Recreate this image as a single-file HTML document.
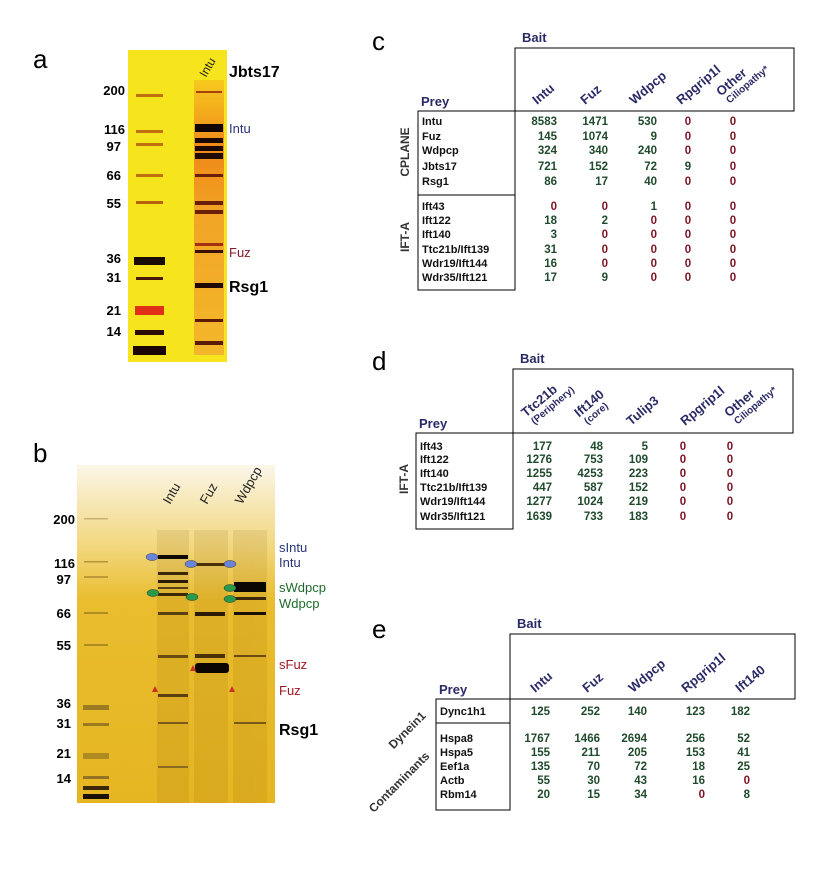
<!DOCTYPE html>
<html><head><meta charset="utf-8">
<style>
html,body{margin:0;padding:0;background:#fff;}
svg{display:block;font-family:"Liberation Sans",sans-serif;}
.pl{font-size:26px;fill:#000;}
.mk{font-size:13px;font-weight:bold;fill:#000;text-anchor:end;}
.hd{font-size:13px;font-weight:bold;fill:#2a2a66;}
.rl{font-size:11px;font-weight:bold;fill:#111;}
.v{font-size:11.5px;font-weight:bold;}
</style></head>
<body>
<svg id="fig" width="816" height="879" viewBox="0 0 816 879">
<defs>
<linearGradient id="gb" x1="0" y1="0" x2="0" y2="1">
<stop offset="0" stop-color="#fbf6e8"/><stop offset="0.25" stop-color="#f1d67a"/><stop offset="0.4" stop-color="#e9bd2e"/><stop offset="1" stop-color="#e6b522"/>
</linearGradient>
<linearGradient id="ga" x1="0" y1="0" x2="0" y2="1">
<stop offset="0" stop-color="#f6c020"/><stop offset="0.25" stop-color="#ee6a18"/><stop offset="0.5" stop-color="#f09028"/><stop offset="1" stop-color="#f2a830"/>
</linearGradient>
</defs>
<g>
<text class="pl" x="33" y="68">a</text>
<rect x="128" y="50" width="99" height="312" fill="#f6e41c"/>
<g fill="#a8400c">
<rect x="136" y="94" width="27" height="3" opacity="0.7"/>
<rect x="136" y="130" width="27" height="3" opacity="0.7"/>
<rect x="136" y="143" width="27" height="3" opacity="0.7"/>
<rect x="136" y="174" width="27" height="3" opacity="0.7"/>
<rect x="136" y="201" width="27" height="3" opacity="0.8"/>
<rect x="134" y="257" width="31" height="8" fill="#1a0a04"/>
<rect x="136" y="277" width="27" height="3" fill="#4a1a08"/>
<rect x="135" y="306" width="29" height="9" fill="#e03018"/>
<rect x="135" y="330" width="29" height="5" fill="#2a0a04"/>
<rect x="133" y="346" width="33" height="9" fill="#1a0604"/>
</g>
<g>
<rect x="194" y="80" width="30" height="275" fill="url(#ga)" opacity="0.75"/>
<rect x="196" y="91" width="26" height="2" fill="#a84010"/>
<rect x="195" y="124" width="28" height="8" fill="#120604"/>
<rect x="195" y="138" width="28" height="5" fill="#1a0804"/>
<rect x="195" y="146" width="28" height="5" fill="#1a0804"/>
<rect x="195" y="153" width="28" height="6" fill="#200a04"/>
<rect x="195" y="174" width="28" height="3" fill="#6a2008"/>
<rect x="195" y="201" width="28" height="4" fill="#6a2008"/>
<rect x="195" y="210" width="28" height="4" fill="#6a2008"/>
<rect x="195" y="243" width="28" height="3" fill="#a03010"/>
<rect x="195" y="250" width="28" height="3" fill="#3a1006"/>
<rect x="195" y="283" width="28" height="5" fill="#200804"/>
<rect x="195" y="319" width="28" height="3" fill="#5a1a08"/>
<rect x="195" y="341" width="28" height="4" fill="#5a1a08"/>
</g>
<g>
<text class="mk" x="125" y="95">200</text><text class="mk" x="125" y="134">116</text>
<text class="mk" x="121" y="151">97</text><text class="mk" x="121" y="180">66</text>
<text class="mk" x="121" y="208">55</text><text class="mk" x="121" y="263">36</text>
<text class="mk" x="121" y="282">31</text><text class="mk" x="121" y="315">21</text>
<text class="mk" x="121" y="336">14</text>
</g>
<text x="206" y="78" font-size="12" fill="#222" transform="rotate(-60 206 78)">Intu</text>
<text x="229" y="77" font-size="16" font-weight="bold" fill="#000">Jbts17</text>
<text x="229" y="133" font-size="13" fill="#2a3478">Intu</text>
<text x="229" y="257" font-size="13" fill="#8a1a24">Fuz</text>
<text x="229" y="292" font-size="16" font-weight="bold" fill="#000">Rsg1</text>
</g>
<g>
<text class="pl" x="33" y="462">b</text>
<rect x="77" y="465" width="198" height="338" fill="url(#gb)"/>
<g opacity="0.12" fill="#8a5a00">
<rect x="157" y="530" width="32" height="273"/><rect x="194" y="530" width="34" height="273"/><rect x="233" y="530" width="34" height="273"/>
</g>
<g fill="#8a6a20">
<rect x="84" y="518" width="24" height="1.5" opacity="0.4"/>
<rect x="84" y="561" width="24" height="1.5" opacity="0.6"/>
<rect x="84" y="576" width="24" height="2" opacity="0.5"/>
<rect x="84" y="612" width="24" height="2" opacity="0.6"/>
<rect x="84" y="644" width="24" height="2" opacity="0.6"/>
<rect x="83" y="705" width="26" height="5" opacity="0.8"/>
<rect x="83" y="723" width="26" height="3" opacity="0.8"/>
<rect x="83" y="753" width="26" height="6" opacity="0.6"/>
<rect x="83" y="776" width="26" height="3" opacity="0.9"/>
<rect x="83" y="786" width="26" height="4" fill="#3a2808"/>
<rect x="83" y="794" width="26" height="5" fill="#1a1008"/>
</g>
<g>
<rect x="158" y="555" width="30" height="4" fill="#100804"/>
<rect x="158" y="572" width="30" height="3" fill="#3a2808"/>
<rect x="158" y="580" width="30" height="3" fill="#2a1a06"/>
<rect x="158" y="587" width="30" height="2" fill="#5a4010"/>
<rect x="158" y="593" width="30" height="3" fill="#3a2808"/>
<rect x="158" y="612" width="30" height="3" fill="#5a4010"/>
<rect x="158" y="655" width="30" height="3" fill="#6a4a10"/>
<rect x="158" y="694" width="30" height="3" fill="#5a4010"/>
<rect x="158" y="722" width="30" height="2" fill="#7a5a18"/>
<rect x="158" y="766" width="30" height="2" fill="#8a6a20"/>
</g>
<g>
<rect x="195" y="563" width="30" height="3" fill="#4a3008"/>
<rect x="195" y="612" width="30" height="4" fill="#2a1a06"/>
<rect x="195" y="654" width="30" height="4" fill="#4a3008"/>
<rect x="195" y="663" width="34" height="10" rx="3" fill="#0a0604"/>
</g>
<g>
<rect x="234" y="582" width="32" height="10" fill="#0a0604"/>
<rect x="234" y="597" width="32" height="3" fill="#3a2808"/>
<rect x="234" y="612" width="32" height="3" fill="#1a1006"/>
<rect x="234" y="655" width="32" height="2" fill="#6a4a10"/>
<rect x="234" y="722" width="32" height="2" fill="#7a5a18"/>
</g>
<g>
<ellipse cx="152" cy="557" rx="6" ry="3.5" fill="#6a84d8" stroke="#334" stroke-width="0.5"/>
<ellipse cx="191" cy="564" rx="6" ry="3.5" fill="#6a84d8" stroke="#334" stroke-width="0.5"/>
<ellipse cx="230" cy="564" rx="6" ry="3.5" fill="#6a84d8" stroke="#334" stroke-width="0.5"/>
<ellipse cx="153" cy="593" rx="6" ry="3.5" fill="#2a9a4a" stroke="#233" stroke-width="0.5"/>
<ellipse cx="192" cy="597" rx="6" ry="3.5" fill="#2a9a4a" stroke="#233" stroke-width="0.5"/>
<ellipse cx="230" cy="588" rx="6" ry="3.5" fill="#2a9a4a" stroke="#233" stroke-width="0.5"/>
<ellipse cx="230" cy="599" rx="6" ry="3.5" fill="#2a9a4a" stroke="#233" stroke-width="0.5"/>
<polygon points="155,686 152,692 158,692" fill="#c83020"/>
<polygon points="193,665 190,671 196,671" fill="#c83020"/>
<polygon points="232,686 229,692 235,692" fill="#c83020"/>
</g>
<g>
<text class="mk" x="75" y="524">200</text><text class="mk" x="75" y="568">116</text>
<text class="mk" x="71" y="584">97</text><text class="mk" x="71" y="618">66</text>
<text class="mk" x="71" y="650">55</text><text class="mk" x="71" y="708">36</text>
<text class="mk" x="71" y="728">31</text><text class="mk" x="71" y="758">21</text>
<text class="mk" x="71" y="783">14</text>
</g>
<text x="170" y="505" font-size="13" fill="#222" transform="rotate(-60 170 505)">Intu</text>
<text x="207" y="505" font-size="13" fill="#222" transform="rotate(-60 207 505)">Fuz</text>
<text x="242" y="505" font-size="13" fill="#222" transform="rotate(-60 242 505)">Wdpcp</text>
<g font-size="13">
<text x="279" y="552" fill="#2a3478">sIntu</text>
<text x="279" y="567" fill="#2a3478">Intu</text>
<text x="279" y="592" fill="#1e6a2a">sWdpcp</text>
<text x="279" y="608" fill="#1e6a2a">Wdpcp</text>
<text x="279" y="669" fill="#a01824">sFuz</text>
<text x="279" y="695" fill="#a01824">Fuz</text>
<text x="279" y="735" fill="#000" font-size="16" font-weight="bold">Rsg1</text>
</g>
</g>
<g id="tables"></g>
</svg>
<script>
// Table c data
const cBaits = ["Intu","Fuz","Wdpcp","Rpgrip1l","Other|Ciliopathy*"];
const cPrey = ["Intu","Fuz","Wdpcp","Jbts17","Rsg1","Ift43","Ift122","Ift140","Ttc21b/Ift139","Wdr19/Ift144","Wdr35/Ift121"];
const cIntu = [8583,145,324,721,86,0,18,3,31,16,17];
const cFuz = [1471,1074,340,152,17,0,2,0,0,0,9];
const cWdpcp = [530,9,240,72,40,1,0,0,0,0,0];
const cRpgrip = [0,0,0,9,0,0,0,0,0,0,0];
const cOther = [0,0,0,0,0,0,0,0,0,0,0];
// Table d data
const dBaits = ["Ttc21b|(Periphery)","Ift140|(core)","Tulip3","Rpgrip1l","Other|Ciliopathy*"];
const dPrey = ["Ift43","Ift122","Ift140","Ttc21b/Ift139","Wdr19/Ift144","Wdr35/Ift121"];
const dTtc = [177,1276,1255,447,1277,1639];
const dIft140 = [48,753,4253,587,1024,733];
const dTulp = [5,109,223,152,219,183];
const dRpgrip = [0,0,0,0,0,0];
const dOther = [0,0,0,0,0,0];
// Table e data
const eBaits = ["Intu","Fuz","Wdpcp","Rpgrip1l","Ift140"];
const ePrey = ["Dync1h1","Hspa8","Hspa5","Eef1a","Actb","Rbm14"];
const eIntu = [125,1767,155,135,55,20];
const eFuz = [252,1466,211,70,30,15];
const eWdpcp = [140,2694,205,72,43,34];
const eRpgrip = [123,256,153,18,16,0];
const eIft = [182,52,41,25,0,8];

const NS="http://www.w3.org/2000/svg";
const root=document.getElementById('tables');
function mk(tag,attrs,parent,txt){const e=document.createElementNS(NS,tag);for(const k in attrs)e.setAttribute(k,attrs[k]);if(txt!==undefined)e.textContent=txt;(parent||root).appendChild(e);return e;}

function table(cfg){
  const g=mk('g',{});
  
  
  const pl=mk('text',{x:372,y:cfg.labelY,'class':'pl'},g,cfg.id);
  
  
  const bt=mk('text',{x:cfg.hx+7,y:cfg.hy-2,'class':'hd','font-size':12},g,'Bait');
  
  
  const hb=mk('rect',{x:cfg.hx,y:cfg.hy+4,width:cfg.hw,height:cfg.by-cfg.hy-4,fill:'none',stroke:'#000','stroke-width':1},g);
  
  
  const pr=mk('text',{x:cfg.bx+3,y:cfg.by-5,'class':'hd'},g,'Prey');
  
  
  const bb=mk('rect',{x:cfg.bx,y:cfg.by,width:cfg.hx-cfg.bx,height:cfg.bh,fill:'none',stroke:'#000','stroke-width':1},g);
  
  
  if(cfg.divY){const d=mk('line',{x1:cfg.bx,x2:cfg.hx,y1:cfg.divY,y2:cfg.divY,stroke:'#000'},g);
    
    }
  cfg.baits.forEach((b,i)=>{
    const parts=b.split('|');const x=cfg.hlx[i],y=cfg.hly;
    const t=mk('text',{x:x,y:y,'class':'hd','font-size':parts.length>1?12:15,transform:`rotate(-40 ${x} ${y})`},g);
    
    
    if(parts.length>1){mk('tspan',{x:x,dy:-11},t,parts[0]);mk('tspan',{x:x+2,dy:11,'font-size':10},t,parts[1]);}
    else t.textContent=parts[0];
  });
  cfg.prey.forEach((p,r)=>{
    const y=cfg.rowY[r];
    const t=mk('text',{x:cfg.bx+4,y:y+4,'class':'rl'},g,p);
    
    
    cfg.cols.forEach((col,c)=>{
      const v=col[r];
      const cell=mk('text',{x:cfg.colX[c],y:y+4,'class':'v','text-anchor':cfg.anchor[c],fill:v>0?'#1f4a2c':'#7a1424'},g,String(v));
      
      
    });
  });
  (cfg.groups||[]).forEach(gr=>{
    const t=mk('text',{x:gr.x,y:gr.y,'font-size':12,'font-weight':'bold',fill:'#333','text-anchor':'middle',transform:`rotate(${gr.rot} ${gr.x} ${gr.y})`},g,gr.t);
    
    
  });
}
table({id:'c',labelY:50,hx:515,hy:44,hw:279,bx:418,by:111,bh:179,divY:195,
  baits:cBaits,hlx:[537,585,634,681,728],hly:105,prey:cPrey,
  rowY:[121,136,150,166,181,206,220,234,249,263,277],
  cols:[cIntu,cFuz,cWdpcp,cRpgrip,cOther],colX:[557,608,657,688,733],anchor:['end','end','end','middle','middle'],
  groups:[{t:'CPLANE',x:409,y:152,rot:-90},{t:'IFT-A',x:409,y:237,rot:-90}]});
table({id:'d',labelY:370,hx:513,hy:365,hw:280,bx:416,by:433,bh:96,
  baits:dBaits,hlx:[533,586,631,685,736],hly:426,prey:dPrey,
  rowY:[446,459,473,487,501,516],
  cols:[dTtc,dIft140,dTulp,dRpgrip,dOther],colX:[552,603,648,683,730],anchor:['end','end','end','middle','middle'],
  groups:[{t:'IFT-A',x:408,y:479,rot:-90}]});
table({id:'e',labelY:638,hx:510,hy:630,hw:285,bx:436,by:699,bh:111,divY:723,
  baits:eBaits,hlx:[535,587,633,686,740],hly:693,prey:ePrey,
  rowY:[711,738,752,766,780,794],
  cols:[eIntu,eFuz,eWdpcp,eRpgrip,eIft],colX:[550,600,647,705,750],anchor:['end','end','end','end','end'],
  groups:[{t:'Dynein1',x:410,y:733,rot:-45},{t:'Contaminants',x:402,y:785,rot:-45}]});
</script>
</body></html>
